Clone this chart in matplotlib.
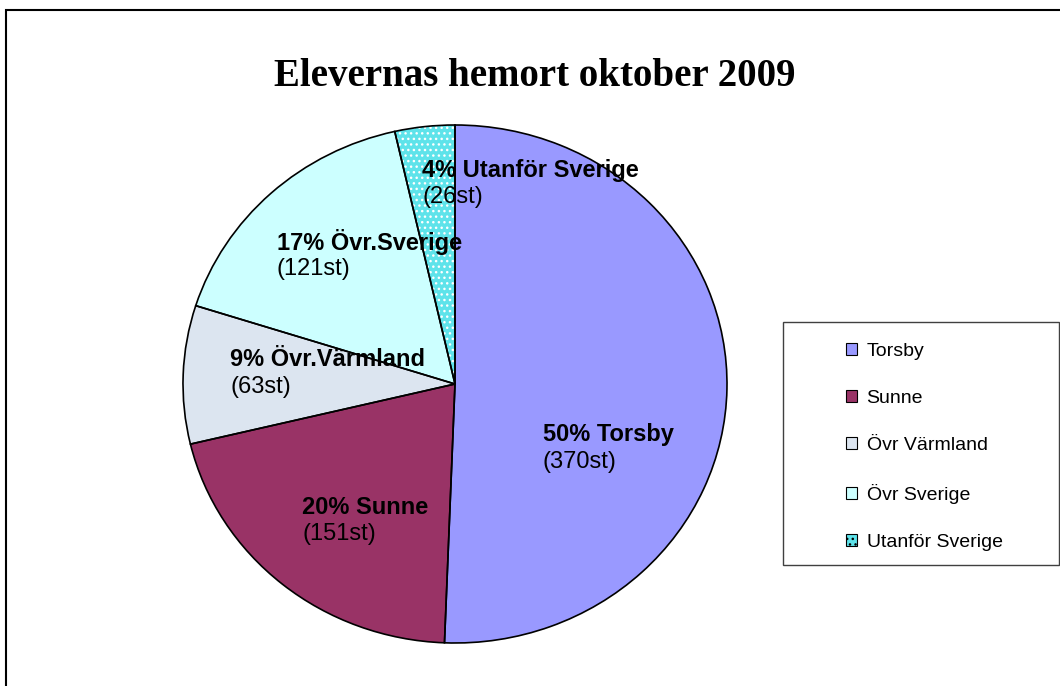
import matplotlib
matplotlib.use("Agg")
import matplotlib.pyplot as plt
from matplotlib.patches import Rectangle, Patch

categories = ["Torsby", "Sunne", "Övr Värmland", "Övr Sverige", "Utanför Sverige"]
counts = [370, 151, 63, 121, 26]
percents = [50, 20, 9, 17, 4]
slice_names = ["Torsby", "Sunne", "Övr.Värmland", "Övr.Sverige", "Utanför Sverige"]
title = "Elevernas hemort oktober 2009"

colors = ["#9999FF", "#993366", "#DCE5F0", "#CCFFFF", "#5EE3EA"]
hatches = [None, None, None, None, "..."]

W, H = 1060, 686
fig = plt.figure(figsize=(W / 100, H / 100), dpi=100)
fig.patch.set_facecolor("white")

def fx(px):
    return px / W

def fy(py):
    return 1 - py / H

# outer chart border
fig.patches.append(Rectangle((fx(6), fy(700)), fx(1100), 690 / H, transform=fig.transFigure,
                             fill=False, edgecolor="black", linewidth=1.5))

# pie axes (slightly elliptical like the original)
cx, cy, rx, ry = 455, 384, 272, 259
ax = fig.add_axes([fx(cx - rx), fy(cy + ry), 2 * rx / W, 2 * ry / H])
wedges, _ = ax.pie(counts, colors=colors, startangle=90, counterclock=False,
                   radius=1.0, wedgeprops=dict(linewidth=0, edgecolor="white"))
for w, h in zip(wedges, hatches):
    if h:
        w.set_hatch(h)
        w.set_edgecolor("white")
        w.set_linewidth(0)
outl, _ = ax.pie(counts, colors=["none"] * len(counts), startangle=90, counterclock=False,
                 radius=1.0, wedgeprops=dict(linewidth=1.2, edgecolor="black", fill=False))
ax.set_aspect("auto")
ax.set_xlim(-1, 1)
ax.set_ylim(-1, 1)
ax.axis("off")

# slice labels (bold first line, plain second line)
label_pos = [(543, 435), (302, 507), (230, 360), (277, 242), (422, 170)]
for (px, py), p, name, c in zip(label_pos, percents, slice_names, counts):
    fig.text(fx(px), fy(py), f"{p}% {name}", ha="left", va="center",
             fontsize=17, fontweight="bold", family="Liberation Sans", color="black")
    fig.text(fx(px), fy(py + 27), f"({c}st)", ha="left", va="center",
             fontsize=17, family="Liberation Sans", color="black")

# title
fig.text(fx(535), fy(76), title, ha="center", va="center", fontsize=28,
         fontweight="bold", family="Liberation Serif")

# legend box
fig.patches.append(Rectangle((fx(783), fy(565)), fx(1059 - 783), (565 - 322) / H,
                             transform=fig.transFigure, fill=True, facecolor="white",
                             edgecolor="#404040", linewidth=1.0))
handles = [Patch(facecolor=col, edgecolor="black", linewidth=0.8, hatch=h)
           for col, h in zip(colors, hatches)]
leg = fig.legend(handles, categories, loc="upper left",
                 bbox_to_anchor=(fx(836), fy(333)), frameon=False,
                 prop=dict(family="Liberation Sans", size=14),
                 handlelength=0.57, handleheight=0.57, handletextpad=0.5,
                 labelspacing=1.55, borderpad=0)

fig.savefig("out.png", dpi=100)
